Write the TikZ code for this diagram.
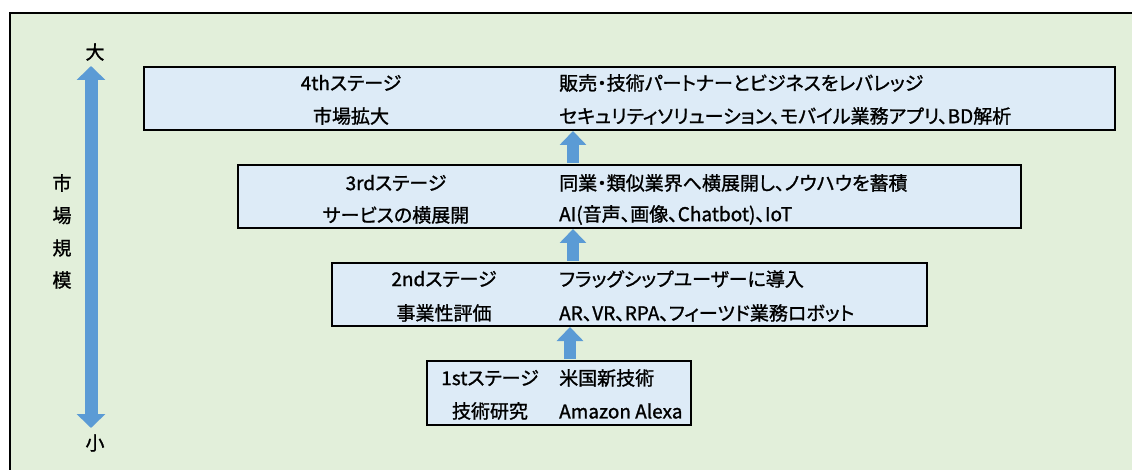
\documentclass[tikz,border=0pt]{standalone}
\usepackage{fontspec}
\setmainfont{Noto Sans CJK JP}[RawFeature=+palt, FakeBold=1.2]
\usetikzlibrary{arrows.meta}
\definecolor{bg}{HTML}{E2EFDA}
\definecolor{boxfill}{HTML}{DDEBF7}
\definecolor{arrowblue}{HTML}{5B9BD5}
\begin{document}
\begin{tikzpicture}[x=1pt,y=-1pt,
  stagebox/.style={draw=black, line width=2pt, fill=boxfill, inner sep=0pt},
  txt/.style={font=\fontsize{19}{22}\selectfont, inner sep=0pt, text=black},
  rtxt/.style={txt, anchor=west},
  uparrow/.style={draw=arrowblue, line width=12pt, shorten <=1pt, -{Triangle[width=26pt,length=14pt]}},
  scalearrow/.style={draw=arrowblue, line width=13pt, {Triangle[width=28pt,length=14pt]}-{Triangle[width=28pt,length=14pt]}}
]
\useasboundingbox (0,0) rectangle (1132,470);
\fill[bg] (9.5,13) rectangle (1132,470);
\draw[line width=2pt] (9.5,470) -- (9.5,13) -- (1132,13);

% stage boxes
\node[stagebox, minimum width=971pt, minimum height=63pt] (b4) at (629.5,98.5) {};
\node[stagebox, minimum width=783pt, minimum height=63pt] (b3) at (629.5,196.5) {};
\node[stagebox, minimum width=595pt, minimum height=63pt] (b2) at (629.5,294.5) {};
\node[stagebox, minimum width=264pt, minimum height=64pt] (b1) at (559,393) {};

% texts
\node[txt] (t4a) at (351,83) {4thステージ};
\node[txt] (t4b) at (351,116) {市場拡大};
\node[rtxt] (t4c) at (559,83) {販売・技術パートナーとビジネスをレバレッジ};
\node[rtxt] (t4d) at (559,116) {セキュリティソリューション、モバイル業務アプリ、BD解析};

\node[txt] (t3a) at (396,183) {3rdステージ};
\node[txt] (t3b) at (396,215) {サービスの横展開};
\node[rtxt] (t3c) at (559,183) {同業・類似業界へ横展開し、ノウハウを蓄積};
\node[rtxt] (t3d) at (559,215) {AI(音声、画像、Chatbot)、IoT};

\node[txt] (t2a) at (444,279) {2ndステージ};
\node[txt] (t2b) at (444,313) {事業性評価};
\node[rtxt] (t2c) at (559,279) {フラッグシップユーザーに導入};
\node[rtxt] (t2d) at (559,313) {AR、VR、RPA、フィーツド業務ロボット};

\node[txt] (t1a) at (490,378) {1stステージ};
\node[txt] (t1b) at (490,411) {技術研究};
\node[rtxt] (t1c) at (559,378) {米国新技術};
\node[rtxt] (t1d) at (559,411) {Amazon Alexa};

% connectors between stages
\coordinate (ax) at (573,0);
\draw[uparrow] (b3.north -| ax) -- (b4.south -| ax);
\draw[uparrow] (b2.north -| ax) -- (b3.south -| ax);
\coordinate (bx) at (570,0);
\draw[uparrow] (b1.north -| bx) -- (b2.south -| bx);

% market size scale
\node[txt] (big) at (95,52) {大};
\node[txt] (small) at (95,443) {小};
\coordinate (atop) at (91,66);
\coordinate (abot) at (91,428);
\draw[scalearrow] (abot) -- (atop);
\node[txt] (v1) at (62,183) {市};
\node[txt] (v2) at (62,215.5) {場};
\node[txt] (v3) at (62,248) {規};
\node[txt] (v4) at (62,280) {模};
\end{tikzpicture}
\end{document}
